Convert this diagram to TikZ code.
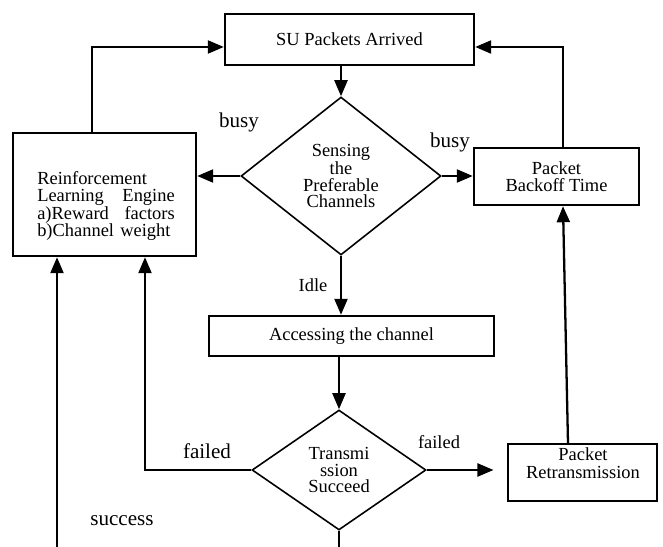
\documentclass[tikz,border=0pt]{standalone}
\usepackage{fontspec}
\setmainfont{Liberation Serif}
\usetikzlibrary{arrows.meta,calc,positioning,shapes.geometric}
\tikzset{thick box/.style={rectangle,draw,line width=1.4pt,inner sep=0pt,align=center,font=\fontsize{10.5}{9.8}\selectfont},
thin box/.style={rectangle,draw,line width=0.6pt,inner sep=0pt},
decision/.style={diamond,draw,line width=0.9pt,inner sep=0pt,align=center,font=\fontsize{10.5}{9.4}\selectfont},
flow arrow/.style={line width=1.3pt,-{Triangle[length=3.2mm,width=2.6mm]}},
flow line/.style={line width=1.3pt},
box text/.style={inner sep=0pt,font=\fontsize{10.5}{10}\selectfont},
big label/.style={inner sep=0pt,font=\fontsize{12}{14}\selectfont},
small label/.style={inner sep=0pt,font=\fontsize{10.5}{12}\selectfont}}

\begin{document}
\begin{tikzpicture}[x=0.02cm,y=-0.02cm]
\useasboundingbox (0,0) rectangle (663,547);

% Main column: arrival, sensing, access, transmission
\node[thick box, minimum width=4.98cm, minimum height=1.02cm] (su) at (349.5,39.5) {SU Packets Arrived};
\node[decision, minimum width=4cm, minimum height=3.16cm] (sense) at (341,176) {Sensing\\the\\Preferable\\Channels};
\node[thick box, minimum width=5.7cm, minimum height=0.8cm] (access) at (351.5,336) {Accessing the channel};
\node[decision, minimum width=3.48cm, minimum height=2.4cm] (trans) at (339,470) {Transmi\\ssion\\Succeed};
\coordinate (tend) at (339,547);

% Learning engine on the left
\node[thick box, minimum width=3.66cm, minimum height=2.46cm] (rl) at (104.5,194.5) {};
\node[box text, text width=2.75cm, align=left] (rltext) at (106,206) {Reinforcement\\Learning\hfill Engine\\a)Reward\hfill factors\\b)Channel weight};
\coordinate (succ) at (57,547);

% Backoff and retransmission on the right
\node[thick box, minimum width=3.3cm, minimum height=1.14cm] (backoff) at (556.5,176.5) {Packet\\Backoff Time};
\node[thin box, minimum width=2.98cm, minimum height=1.14cm] (retx) at (582.5,472.5) {};
\node[box text, align=center] (retxtext) at (583,463) {Packet\\Retransmission};

% Arrows down the column
\draw[flow arrow] (sense.north |- su.south) -- (sense.north);
\draw[flow arrow] (sense.south) -- (sense.south |- access.north);
\draw[flow arrow] (trans.north |- access.south) -- (trans.north);
\draw[flow line] (trans.south) -- (tend);

% busy branches and the way back to SU Packets Arrived
\draw[flow arrow] (sense.west) -- (sense.west -| rl.east);
\draw[flow arrow] (sense.east) -- (sense.east -| backoff.west);
\draw[flow arrow] ([xshift=-0.25cm]rl.north) |- ([yshift=-0.15cm]su.west);
\draw[flow arrow] ([xshift=0.13cm]backoff.north) |- ([yshift=-0.15cm]su.east);

% failed and success branches
\draw[flow arrow] (trans.west) -| ([xshift=0.81cm]rl.south);
\draw[flow arrow, shorten >=0.28cm] (trans.east) -- (trans.east -| retx.west);
\draw[flow arrow] ([xshift=-0.29cm]retx.north) -- ([xshift=0.13cm]backoff.south);
\draw[flow arrow] (succ) -- (succ |- rl.south);

% Labels
\node[big label] (busyl) at (239,122) {busy};
\node[big label] (busyr) at (450,142) {busy};
\node[small label] (idle) at (313,285) {Idle};
\node[big label] (failedl) at (207,451) {failed};
\node[small label] (failedr) at (439,442) {failed};
\node[big label] (success) at (122,521) {success};

\end{tikzpicture}
\end{document}
